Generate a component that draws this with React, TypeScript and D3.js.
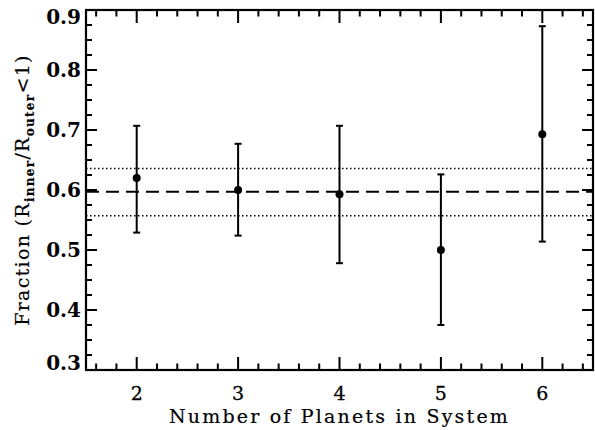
import React from "react";
import * as d3 from "d3";

const nPlanets = [2, 3, 4, 5, 6];
const fraction = [0.62, 0.6, 0.593, 0.5, 0.693];
const errHigh = [0.707, 0.677, 0.707, 0.626, 0.873];
const errLow = [0.529, 0.524, 0.478, 0.375, 0.514];
const meanLine = 0.597;
const meanBand = [0.557, 0.636];
const xTicks = [2, 3, 4, 5, 6];
const yTicks = [0.3, 0.4, 0.5, 0.6, 0.7, 0.8, 0.9];

const W = 595, H = 430;
const M = { left: 86, right: 2, top: 10, bottom: 60 };

export default function App() {
  const x = d3.scaleLinear().domain([1.5, 6.5]).range([M.left, W - M.right]);
  const y = d3.scaleLinear().domain([0.3, 0.9]).range([H - M.bottom, M.top]);
  const x0 = M.left, x1 = W - M.right, y0 = H - M.bottom, y1 = M.top;
  const xMinor = d3.range(1.6, 6.45, 0.2).filter(v => Math.abs(v - Math.round(v)) > 0.01);
  const yMinor = d3.range(0.325, 0.9, 0.025).filter(v => Math.abs(v * 10 - Math.round(v * 10)) > 0.01);
  const stroke = "#000";
  const font = "'DejaVu Serif', serif";
  return (
    <svg width={W} height={H} style={{ position: "absolute", left: 0, top: 0, background: "#fff" }}>
      {meanBand.map((v, i) => (
        <line key={"b" + i} x1={x0} x2={x1} y1={y(v)} y2={y(v)} stroke={stroke} strokeWidth={1.5} strokeDasharray="1.5,2.5" />
      ))}
      <line x1={x0} x2={x1} y1={y(meanLine)} y2={y(meanLine)} stroke={stroke} strokeWidth={2} strokeDasharray="13,7" />
      {nPlanets.map((n, i) => (
        <g key={"e" + i}>
          <line x1={x(n)} x2={x(n)} y1={y(errLow[i])} y2={y(errHigh[i])} stroke={stroke} strokeWidth={2} />
          <line x1={x(n) - 3.5} x2={x(n) + 3.5} y1={y(errLow[i])} y2={y(errLow[i])} stroke={stroke} strokeWidth={2} />
          <line x1={x(n) - 3.5} x2={x(n) + 3.5} y1={y(errHigh[i])} y2={y(errHigh[i])} stroke={stroke} strokeWidth={2} />
          <circle cx={x(n)} cy={y(fraction[i])} r={4} fill={stroke} />
        </g>
      ))}
      <rect x={x0} y={y1} width={x1 - x0} height={y0 - y1} fill="none" stroke={stroke} strokeWidth={2.2} />
      {xTicks.map(v => (
        <g key={"xt" + v}>
          <line x1={x(v)} x2={x(v)} y1={y0} y2={y0 - 13} stroke={stroke} strokeWidth={2} />
          <line x1={x(v)} x2={x(v)} y1={y1} y2={y1 + 13} stroke={stroke} strokeWidth={2} />
          <text x={x(v)} y={y0 + 30} textAnchor="middle" fontFamily={font} fontSize={19} stroke="#000" strokeWidth={0.3}>{v}</text>
        </g>
      ))}
      {xMinor.map((v, i) => (
        <g key={"xm" + i}>
          <line x1={x(v)} x2={x(v)} y1={y0} y2={y0 - 6.5} stroke={stroke} strokeWidth={2} />
          <line x1={x(v)} x2={x(v)} y1={y1} y2={y1 + 6.5} stroke={stroke} strokeWidth={2} />
        </g>
      ))}
      {yTicks.map((v, i) => {
        const dy = i === 0 ? -7 : i === yTicks.length - 1 ? 7 : 0;
        return (
          <g key={"yt" + v}>
            <line x1={x0} x2={x0 + 11} y1={y(v)} y2={y(v)} stroke={stroke} strokeWidth={2} />
            <line x1={x1} x2={x1 - 11} y1={y(v)} y2={y(v)} stroke={stroke} strokeWidth={2} />
            <text x={x0 - 5} y={y(v) + dy + 7} textAnchor="end" fontFamily={font} fontWeight="bold" fontSize={20}>{v.toFixed(1)}</text>
          </g>
        );
      })}
      {yMinor.map((v, i) => (
        <g key={"ym" + i}>
          <line x1={x0} x2={x0 + 6} y1={y(v)} y2={y(v)} stroke={stroke} strokeWidth={2} />
          <line x1={x1} x2={x1 - 6} y1={y(v)} y2={y(v)} stroke={stroke} strokeWidth={2} />
        </g>
      ))}
      <text x={(x0 + x1) / 2} y={y0 + 53} textAnchor="middle" fontFamily={font} fontSize={19} letterSpacing={2.2} stroke="#000" strokeWidth={0.2}>
        Number of Planets in System
      </text>
      <text transform={`translate(29, ${(y0 + y1) / 2}) rotate(-90)`} textAnchor="middle" fontFamily={font} fontSize={19} letterSpacing={1.3} stroke="#000" strokeWidth={0.2}>
        Fraction (R<tspan fontSize={12} dy={5} fontWeight="bold">inner</tspan><tspan dy={-5}>/R</tspan><tspan fontSize={12} dy={5} fontWeight="bold">outer</tspan><tspan dy={-5}>&lt;1)</tspan>
      </text>
    </svg>
  );
}
